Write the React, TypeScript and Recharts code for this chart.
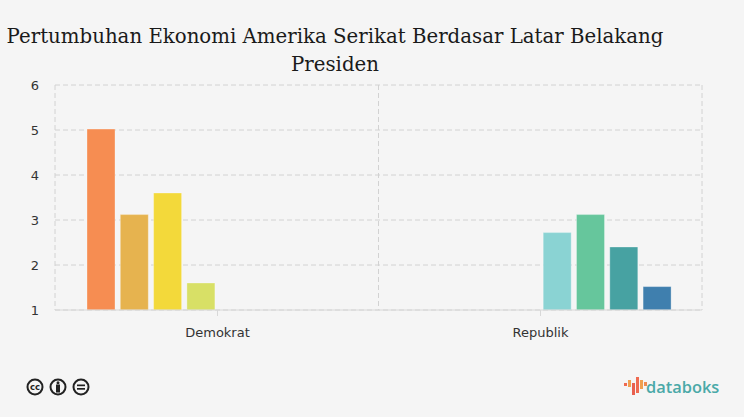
import { Bar, BarChart, CartesianGrid, XAxis, YAxis } from "recharts";

// Values; each president only has a bar in one party group.
const categories = ["Demokrat", "Republik"];
const seriesA = [5.02, null];
const seriesB = [3.12, null];
const seriesC = [3.6, null];
const seriesD = [1.6, null];
const seriesE = [null, 2.72];
const seriesF = [null, 3.12];
const seriesG = [null, 2.4];
const seriesH = [null, 1.52];
const yTicks = [1, 2, 3, 4, 5, 6];

const allSeries = [seriesA, seriesB, seriesC, seriesD, seriesE, seriesF, seriesG, seriesH];
const colors = [
  "#f68d52",
  "#e6b34f",
  "#f3d93a",
  "#d8e066",
  "#8ad3d3",
  "#66c69c",
  "#47a2a2",
  "#3f7fae",
];

const data = categories.map((name, i) => {
  const row: Record<string, string | number | null> = { name };
  allSeries.forEach((values, s) => {
    row[`s${s}`] = values[i];
  });
  return row;
});

const AXIS_FONT = "'DejaVu Sans', sans-serif";

function CcIcons() {
  const ring = { fill: "none", stroke: "#222", strokeWidth: 2 };
  return (
    <svg width={70} height={20} style={{ position: "absolute", left: 25, top: 377 }}>
      <circle cx={10} cy={10} r={7.5} {...ring} />
      <text x={10} y={13} textAnchor="middle" fontSize={8.5} fontWeight={700} fontFamily={AXIS_FONT} fill="#222">
        cc
      </text>
      <circle cx={33} cy={10} r={7.5} {...ring} />
      <circle cx={33} cy={5.8} r={1.5} fill="#222" />
      <rect x={31} y={7.5} width={4} height={8} fill="#222" />
      <circle cx={56} cy={10} r={7.5} {...ring} />
      <rect x={52} y={7.5} width={8} height={1.7} fill="#222" />
      <rect x={52} y={11} width={8} height={1.7} fill="#222" />
    </svg>
  );
}

function Logo() {
  const bars = [
    [0, 6, 3, "#ef6a50"],
    [4, 3, 7, "#f0a050"],
    [8, 6, 12, "#e8604f"],
    [12, 0, 16, "#ef6a50"],
    [16, 3, 9, "#f0a050"],
    [20, 5, 4, "#ef8a50"],
  ] as const;
  return (
    <div style={{ position: "absolute", left: 624, top: 373, width: 110, height: 26 }}>
      <svg width={24} height={20} style={{ position: "absolute", left: 0, top: 4 }}>
        {bars.map(([x, y, h, c]) => (
          <rect key={x} x={x} y={y} width={3} height={h} fill={c} />
        ))}
      </svg>
      <span
        style={{
          position: "absolute",
          left: 22,
          top: 2,
          fontFamily: "'Open Sans', sans-serif",
          fontSize: 16.4,
          fontWeight: 600,
          color: "#4aa9a8",
        }}
      >
        databoks
      </span>
    </div>
  );
}

export default function App() {
  return (
    <div
      style={{
        position: "absolute",
        left: 0,
        top: 0,
        width: 744,
        height: 417,
        background: "#f5f5f5",
        overflow: "hidden",
      }}
    >
      <div
        style={{
          position: "absolute",
          left: 0,
          top: 23,
          width: 670,
          textAlign: "center",
          fontFamily: "'DejaVu Serif', serif",
          fontSize: 19.75,
          lineHeight: "28px",
          color: "#1a1a1a",
        }}
      >
        Pertumbuhan Ekonomi Amerika Serikat Berdasar Latar Belakang Presiden
      </div>
      <BarChart
        width={744}
        height={417}
        data={data}
        barSize={28}
        barGap={5.3}
        margin={{ top: 85, right: 42, bottom: 77, left: 0 }}
      >
        <CartesianGrid
          stroke="#d2d2d2"
          strokeDasharray="5 3"
          verticalCoordinatesGenerator={({ offset }: any) => [
            offset.left,
            offset.left + offset.width / 2,
            offset.left + offset.width,
          ]}
        />
        <XAxis
          dataKey="name"
          height={30}
          stroke="#d8d8d8"
          padding={{ left: 1, right: 0 }}
          tickSize={6}
          tickMargin={12}
          tick={{ fill: "#333", fontSize: 13, fontFamily: AXIS_FONT }}
        />
        <YAxis
          width={55}
          domain={[1, 6]}
          ticks={yTicks}
          allowDataOverflow
          axisLine={false}
          tickLine={false}
          tickMargin={10}
          tick={{ fill: "#333", fontSize: 13, fontFamily: AXIS_FONT }}
        />
        {allSeries.map((_, s) => (
          <Bar
            key={s}
            dataKey={`s${s}`}
            fill={colors[s]}
            stroke="rgba(255,255,255,0.3)"
            isAnimationActive={false}
          />
        ))}
      </BarChart>
      <CcIcons />
      <Logo />
    </div>
  );
}
